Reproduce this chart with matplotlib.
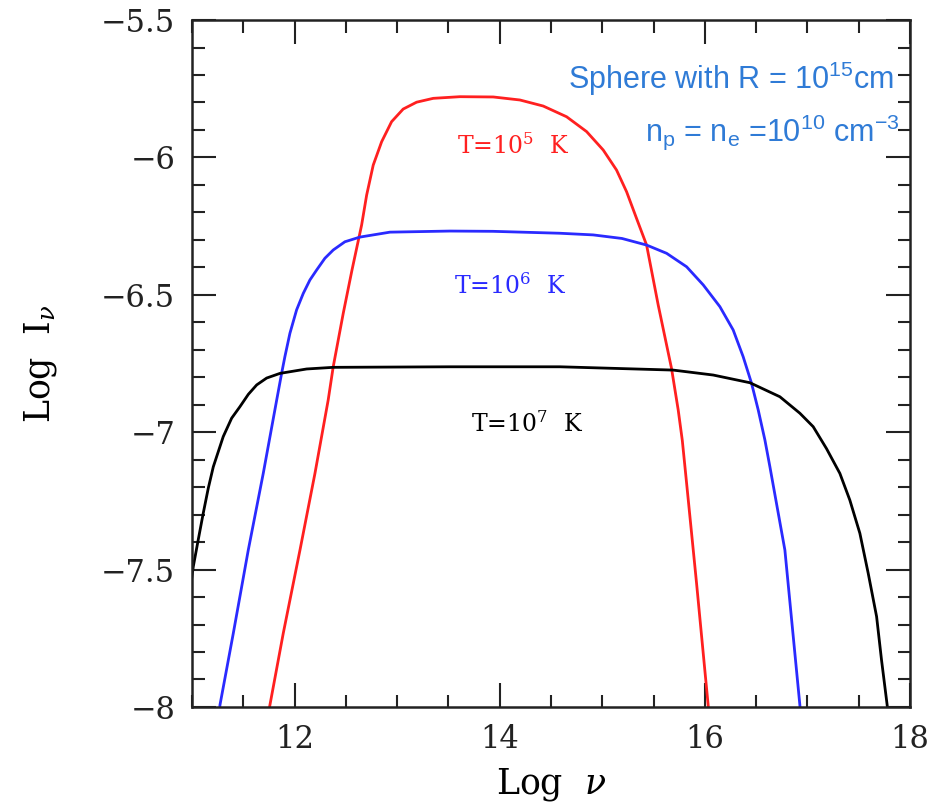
import matplotlib
matplotlib.use('Agg')
import matplotlib.pyplot as plt
from matplotlib.ticker import MultipleLocator

plt.rcParams['font.family'] = 'DejaVu Serif'
plt.rcParams['mathtext.fontset'] = 'dejavuserif'

# curves (log nu, log I_nu)
x_t5 = [11.70, 11.760, 11.890, 12.053, 12.199, 12.328, 12.377, 12.475, 12.560, 12.654, 12.703,
        12.767, 12.849, 12.946, 13.059, 13.190, 13.352, 13.612, 13.937, 14.197, 14.424,
        14.652, 14.847, 15.009, 15.139, 15.237, 15.334, 15.432, 15.545, 15.675, 15.740,
        15.780, 15.822, 15.919, 16.032, 16.05]
y_t5 = [-8.12, -7.993, -7.732, -7.429, -7.150, -6.883, -6.762, -6.567, -6.410, -6.246, -6.137,
        -6.028, -5.943, -5.870, -5.824, -5.799, -5.785, -5.779, -5.780, -5.791, -5.813,
        -5.852, -5.906, -5.973, -6.046, -6.125, -6.222, -6.319, -6.537, -6.768, -6.919,
        -7.030, -7.186, -7.550, -7.993, -8.08]

x_t6 = [11.25, 11.273, 11.403, 11.549, 11.695, 11.826, 11.874, 11.906, 11.955, 12.020, 12.085,
        12.150, 12.215, 12.296, 12.377, 12.491, 12.637, 12.930, 13.515, 13.934, 14.587,
        14.911, 15.192, 15.432, 15.627, 15.822, 15.984, 16.146, 16.276, 16.373, 16.455,
        16.520, 16.585, 16.634, 16.780, 16.926, 16.94]
y_t6 = [-8.10, -7.993, -7.732, -7.429, -7.150, -6.883, -6.786, -6.725, -6.640, -6.555, -6.495,
        -6.446, -6.410, -6.367, -6.337, -6.307, -6.290, -6.272, -6.268, -6.269, -6.276,
        -6.282, -6.295, -6.319, -6.349, -6.398, -6.464, -6.543, -6.628, -6.725, -6.822,
        -6.919, -7.028, -7.126, -7.429, -7.993, -8.08]

x_t7 = [10.98, 11.013, 11.061, 11.110, 11.159, 11.208, 11.305, 11.387, 11.468, 11.550, 11.631,
        11.728, 11.858, 12.020, 12.118, 12.377, 13.515, 14.587, 15.691, 16.081, 16.439,
        16.731, 16.926, 17.056, 17.121, 17.186, 17.316, 17.413, 17.511, 17.592, 17.674,
        17.722, 17.777, 17.80]
y_t7 = [-7.58, -7.489, -7.392, -7.295, -7.204, -7.126, -7.016, -6.949, -6.907, -6.862, -6.828,
        -6.803, -6.786, -6.776, -6.770, -6.764, -6.762, -6.762, -6.774, -6.792, -6.820,
        -6.871, -6.931, -6.980, -7.020, -7.060, -7.150, -7.247, -7.368, -7.513, -7.671,
        -7.829, -7.993, -8.08]

xticks = [12, 14, 16, 18]
yticks = [-8, -7.5, -7, -6.5, -6, -5.5]
ytick_labels = ['\u22128', '\u22127.5', '\u22127', '\u22126.5', '\u22126', '\u22125.5']

fig = plt.figure(figsize=(9.35, 8.11), dpi=100)
ax = fig.add_axes([0.2053, 0.1283, 0.768, 0.847])

ax.plot(x_t5, y_t5, color='#ff2020', linewidth=2.0)
ax.plot(x_t6, y_t6, color='#2a2aff', linewidth=2.0)
ax.plot(x_t7, y_t7, color='black', linewidth=2.0)

ax.set_xlim(11, 18)
ax.set_ylim(-8, -5.5)

ax.set_xticks(xticks)
ax.set_xticklabels([str(t) for t in xticks])
ax.set_yticks(yticks)
ax.set_yticklabels(ytick_labels)
ax.xaxis.set_minor_locator(MultipleLocator(0.5))
ax.yaxis.set_minor_locator(MultipleLocator(0.1))

ax.tick_params(which='both', direction='in', top=True, right=True, colors='#222222')
ax.tick_params(which='major', length=17, width=1.5, labelsize=22, pad=12)
ax.tick_params(which='minor', length=9, width=1.5)
for s in ax.spines.values():
    s.set_linewidth(1.8)
    s.set_color('#222222')

ax.set_xlabel(r'Log  $\nu$', fontsize=25, labelpad=8)
ax.set_ylabel(r'Log  I$_\nu$', fontsize=25, labelpad=30)

ax.text(14.13, -5.96, 'T=10$^5$  K', color='#ff2020', fontsize=17, ha='center', va='center')
ax.text(14.10, -6.47, 'T=10$^6$  K', color='#2a2aff', fontsize=17, ha='center', va='center')
ax.text(14.27, -6.97, 'T=10$^7$  K', color='black', fontsize=17, ha='center', va='center')

blue = '#2f7bd6'
sans = ['Liberation Sans Narrow', 'Liberation Sans']
ax.text(17.84, -5.75, r'Sphere with R = 10$\mathregular{^{15}}$cm', color=blue, fontsize=22,
        family=sans, ha='right', va='baseline')
ax.text(17.90, -5.94, r'n$\mathregular{_p}$ = n$\mathregular{_e}$ =10$\mathregular{^{10}}$ cm$\mathregular{^{-3}}$',
        color=blue, fontsize=22, family=sans, ha='right', va='baseline')

fig.savefig('out.png', dpi=100)
